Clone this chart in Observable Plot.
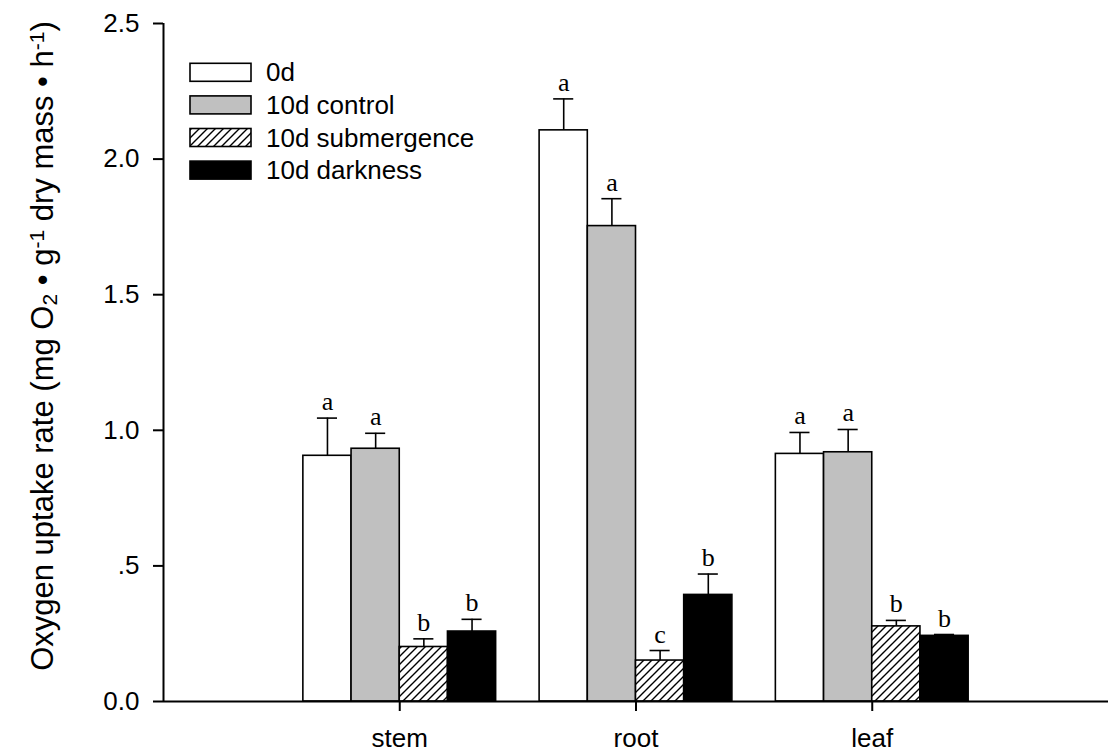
<!DOCTYPE html>
<html>
<head>
<meta charset="utf-8">
<script src="https://cdn.jsdelivr.net/npm/d3@7"></script>
<script src="https://cdn.jsdelivr.net/npm/@observablehq/plot@0.6"></script>
<style>
  body { margin: 0; background: #fff; }
  #chart { width: 1113px; height: 753px; }
</style>
</head>
<body>
<div id="chart"></div>
<script>
// ---- data ----
const categories = ["stem", "root", "leaf"];
const series = ["0d", "10d control", "10d submergence", "10d darkness"];
const mean0d = [0.906, 2.106, 0.913];
const meanControl = [0.932, 1.753, 0.919];
const meanSubmergence = [0.201, 0.151, 0.277];
const meanDarkness = [0.258, 0.393, 0.242];
const se0d = [0.139, 0.116, 0.079];
const seControl = [0.057, 0.101, 0.084];
const seSubmergence = [0.030, 0.037, 0.022];
const seDarkness = [0.045, 0.077, 0.005];
const letters0d = ["a", "a", "a"];
const lettersControl = ["a", "a", "a"];
const lettersSubmergence = ["b", "c", "b"];
const lettersDarkness = ["b", "b", "b"];
const yTicks = [0, 0.5, 1.0, 1.5, 2.0, 2.5];
const yTickLabels = ["0.0", ".5", "1.0", "1.5", "2.0", "2.5"];

// ---- styles ----
const seriesFill = ["white", "#c0c0c0", "url(#hatch)", "black"];
const BW = 0.204;   // bar width in x units
const CAP = 0.085;  // error cap width in x units

const means = [mean0d, meanControl, meanSubmergence, meanDarkness];
const ses = [se0d, seControl, seSubmergence, seDarkness];
const letters = [letters0d, lettersControl, lettersSubmergence, lettersDarkness];

const data = [];
series.forEach((s, si) => {
  categories.forEach((c, ci) => {
    const x1 = (ci + 1) + (si - 2) * BW;
    data.push({
      series: s, si, category: c,
      x1, x2: x1 + BW, xc: x1 + BW / 2,
      mean: means[si][ci],
      upper: means[si][ci] + ses[si][ci],
      letter: letters[si][ci]
    });
  });
});

const font = "'Liberation Sans', Arial, sans-serif";

const marks = [
  Plot.ruleX(data, {x: "xc", y1: "mean", y2: "upper", stroke: "black", strokeWidth: 1.6}),
  Plot.ruleY(data, {y: "upper", x1: d => d.xc - CAP / 2, x2: d => d.xc + CAP / 2, stroke: "black", strokeWidth: 1.6}),
  ...series.map((s, si) => Plot.rect(data.filter(d => d.si === si), {
    x1: "x1", x2: "x2", y1: 0, y2: "mean",
    fill: seriesFill[si], stroke: "black", strokeWidth: 1.6
  })),
  Plot.text(data, {
    x: "xc", y: "upper", text: "letter", dy: -8, lineAnchor: "bottom",
    fontFamily: "'Liberation Serif', 'Times New Roman', serif", fontSize: 26, fill: "black"
  }),
  Plot.axisY({
    ticks: yTicks, tickFormat: d => yTickLabels[yTicks.indexOf(d)],
    tickSize: 10, tickPadding: 14, fontSize: 26, label: null, strokeWidth: 2
  }),
  Plot.axisX({
    ticks: [1, 2, 3], tickFormat: i => categories[i - 1],
    tickSize: 10, tickPadding: 17, fontSize: 26, label: null, strokeWidth: 2
  }),
  Plot.ruleX([0], {stroke: "black", strokeWidth: 2}),
  Plot.ruleY([0], {stroke: "black", strokeWidth: 2})
];

const chart = Plot.plot({
  width: 1113,
  height: 753,
  marginLeft: 163,
  marginRight: 5,
  marginTop: 23,
  marginBottom: 52,
  x: {domain: [0, 4]},
  y: {domain: [0, 2.5]},
  style: {fontFamily: font, fontSize: "26px", background: "white", color: "black", overflow: "visible"},
  marks
});
document.getElementById("chart").appendChild(chart);

const svg = d3.select(chart);

// hatch pattern
const defs = svg.insert("defs", ":first-child");
defs.append("pattern")
  .attr("id", "hatch")
  .attr("patternUnits", "userSpaceOnUse")
  .attr("width", 8).attr("height", 8)
  .call(p => {
    p.append("rect").attr("width", 8).attr("height", 8).attr("fill", "white");
    p.append("path")
      .attr("d", "M-2,2 L2,-2 M0,8 L8,0 M6,10 L10,6")
      .attr("stroke", "black").attr("stroke-width", 1.4);
  });

// y-axis title with sub/superscripts
const title = svg.append("text")
  .attr("transform", "translate(53,346) rotate(-90)")
  .attr("text-anchor", "middle")
  .attr("font-family", font)
  .attr("font-size", 31)
  .attr("fill", "black");
const parts = [
  ["Oxygen uptake rate (mg O", 0],
  ["2", 1],
  [" \u2022 g", 0],
  ["-1", -1],
  [" dry mass \u2022 h", 0],
  ["-1", -1],
  [")", 0]
];
parts.forEach(([t, kind]) => {
  const ts = title.append("tspan").text(t);
  if (kind === 1) ts.attr("font-size", 21).attr("baseline-shift", "-4");
  if (kind === -1) ts.attr("font-size", 21).attr("baseline-shift", "9");
});

// legend
const lg = svg.append("g")
  .attr("font-family", font)
  .attr("font-size", 26)
  .attr("text-anchor", "start");
series.forEach((s, i) => {
  const top = 63.3 + i * 32.6;
  lg.append("rect")
    .attr("x", 190).attr("y", top).attr("width", 61).attr("height", 18)
    .attr("fill", seriesFill[i]).attr("stroke", "black").attr("stroke-width", 1.6);
  lg.append("text")
    .attr("x", 266).attr("y", top + 18)
    .attr("text-anchor", "start")
    .attr("fill", "black")
    .text(s);
});
</script>
</body>
</html>
